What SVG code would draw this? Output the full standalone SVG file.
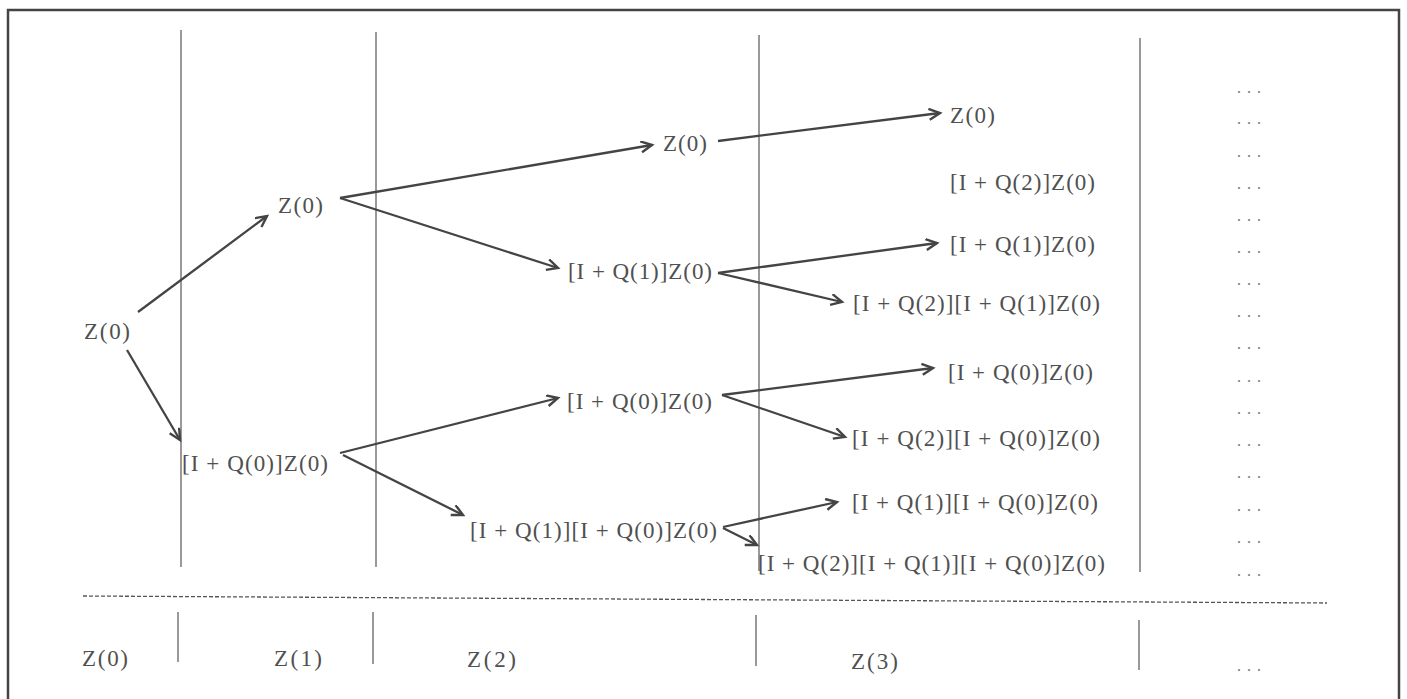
<svg xmlns="http://www.w3.org/2000/svg" width="1407" height="699" viewBox="0 0 1407 699">
<style>
.t{font-family:"Liberation Serif","Times New Roman",serif;font-size:23px;fill:#505050}
.d{font-family:"Liberation Serif","Times New Roman",serif;font-size:16px;fill:#777}
.v{stroke:#555;stroke-width:1.2;fill:none}
.a{stroke:#444;stroke-width:2.3;fill:none;marker-end:url(#ah)}
</style>
<defs>
<marker id="ah" markerUnits="userSpaceOnUse" markerWidth="16" markerHeight="16" refX="12" refY="6" orient="auto">
<path d="M1,0.5 L12,6 L1,11.5" fill="none" stroke="#444" stroke-width="2.4"/>
</marker>
</defs>
<rect x="8" y="10" width="1391" height="700" fill="#fff" stroke="#444" stroke-width="2.5"/>
<g id="grid">
<line class="v" x1="181" y1="30" x2="181" y2="567"/>
<line class="v" x1="376" y1="32" x2="376" y2="567"/>
<line class="v" x1="759" y1="35" x2="759" y2="571"/>
<line class="v" x1="1140" y1="38" x2="1140" y2="572"/>
<line x1="83" y1="596" x2="1327" y2="603" stroke="#555" stroke-width="1.3" stroke-dasharray="4 2"/>
<line class="v" x1="178" y1="612" x2="178" y2="662"/>
<line class="v" x1="373" y1="612" x2="373" y2="664"/>
<line class="v" x1="756" y1="615" x2="756" y2="666"/>
<line class="v" x1="1139" y1="620" x2="1139" y2="670"/>
</g>
<g id="connectors">
<line class="a" x1="138" y1="312" x2="267" y2="216"/>
<line class="a" x1="127" y1="350" x2="180" y2="440"/>
<line class="a" x1="340" y1="198" x2="652" y2="145"/>
<line class="a" x1="340" y1="198" x2="558" y2="268"/>
<line class="a" x1="340" y1="453" x2="558" y2="398"/>
<line class="a" x1="343" y1="455" x2="463" y2="515"/>
<line class="a" x1="718" y1="141" x2="940" y2="113"/>
<line class="a" x1="718" y1="273" x2="937" y2="243"/>
<line class="a" x1="718" y1="273" x2="842" y2="302"/>
<line class="a" x1="722" y1="395" x2="933" y2="368"/>
<line class="a" x1="722" y1="395" x2="845" y2="437"/>
<line class="a" x1="723" y1="527" x2="837" y2="502"/>
<line class="a" x1="723" y1="528" x2="757" y2="545"/>
</g>
<g id="n0"><text class="t" x="84" y="339" textLength="46" lengthAdjust="spacing">Z(0)</text></g>
<g id="n1"><text class="t" x="278" y="213" textLength="45" lengthAdjust="spacing">Z(0)</text></g>
<g id="n2"><text class="t" x="182" y="471" textLength="146" lengthAdjust="spacing">[I + Q(0)]Z(0)</text></g>
<g id="n3"><text class="t" x="663" y="151" textLength="44" lengthAdjust="spacing">Z(0)</text></g>
<g id="n4"><text class="t" x="568" y="279" textLength="144" lengthAdjust="spacing">[I + Q(1)]Z(0)</text></g>
<g id="n5"><text class="t" x="567" y="409" textLength="145" lengthAdjust="spacing">[I + Q(0)]Z(0)</text></g>
<g id="n6"><text class="t" x="470" y="538" textLength="247" lengthAdjust="spacing">[I + Q(1)][I + Q(0)]Z(0)</text></g>
<g id="n7"><text class="t" x="950" y="123" textLength="45" lengthAdjust="spacing">Z(0)</text></g>
<g id="n8"><text class="t" x="950" y="190" textLength="145" lengthAdjust="spacing">[I + Q(2)]Z(0)</text></g>
<g id="n9"><text class="t" x="950" y="252" textLength="145" lengthAdjust="spacing">[I + Q(1)]Z(0)</text></g>
<g id="n10"><text class="t" x="853" y="311" textLength="247" lengthAdjust="spacing">[I + Q(2)][I + Q(1)]Z(0)</text></g>
<g id="n11"><text class="t" x="948" y="380" textLength="145" lengthAdjust="spacing">[I + Q(0)]Z(0)</text></g>
<g id="n12"><text class="t" x="852" y="446" textLength="248" lengthAdjust="spacing">[I + Q(2)][I + Q(0)]Z(0)</text></g>
<g id="n13"><text class="t" x="852" y="510" textLength="246" lengthAdjust="spacing">[I + Q(1)][I + Q(0)]Z(0)</text></g>
<g id="n14"><text class="t" x="758" y="571" textLength="347" lengthAdjust="spacing">[I + Q(2)][I + Q(1)][I + Q(0)]Z(0)</text></g>
<g id="dots">
<text class="d" x="1237" y="93" textLength="24" lengthAdjust="spacing">...</text>
<text class="d" x="1237" y="124" textLength="24" lengthAdjust="spacing">...</text>
<text class="d" x="1237" y="157" textLength="24" lengthAdjust="spacing">...</text>
<text class="d" x="1237" y="189" textLength="24" lengthAdjust="spacing">...</text>
<text class="d" x="1237" y="221" textLength="24" lengthAdjust="spacing">...</text>
<text class="d" x="1237" y="253" textLength="24" lengthAdjust="spacing">...</text>
<text class="d" x="1237" y="285" textLength="24" lengthAdjust="spacing">...</text>
<text class="d" x="1237" y="317" textLength="24" lengthAdjust="spacing">...</text>
<text class="d" x="1237" y="349" textLength="24" lengthAdjust="spacing">...</text>
<text class="d" x="1237" y="382" textLength="24" lengthAdjust="spacing">...</text>
<text class="d" x="1237" y="414" textLength="24" lengthAdjust="spacing">...</text>
<text class="d" x="1237" y="446" textLength="24" lengthAdjust="spacing">...</text>
<text class="d" x="1237" y="478" textLength="24" lengthAdjust="spacing">...</text>
<text class="d" x="1237" y="511" textLength="24" lengthAdjust="spacing">...</text>
<text class="d" x="1237" y="543" textLength="24" lengthAdjust="spacing">...</text>
<text class="d" x="1237" y="576" textLength="24" lengthAdjust="spacing">...</text>
</g>
<g id="axis">
<text class="t" x="82" y="666" textLength="46" lengthAdjust="spacing">Z(0)</text>
<text class="t" x="274" y="666" textLength="48" lengthAdjust="spacing">Z(1)</text>
<text class="t" x="467" y="667" textLength="49" lengthAdjust="spacing">Z(2)</text>
<text class="t" x="851" y="669" textLength="47" lengthAdjust="spacing">Z(3)</text>
<text class="d" x="1237" y="671" textLength="24" lengthAdjust="spacing">...</text>
</g>
</svg>
